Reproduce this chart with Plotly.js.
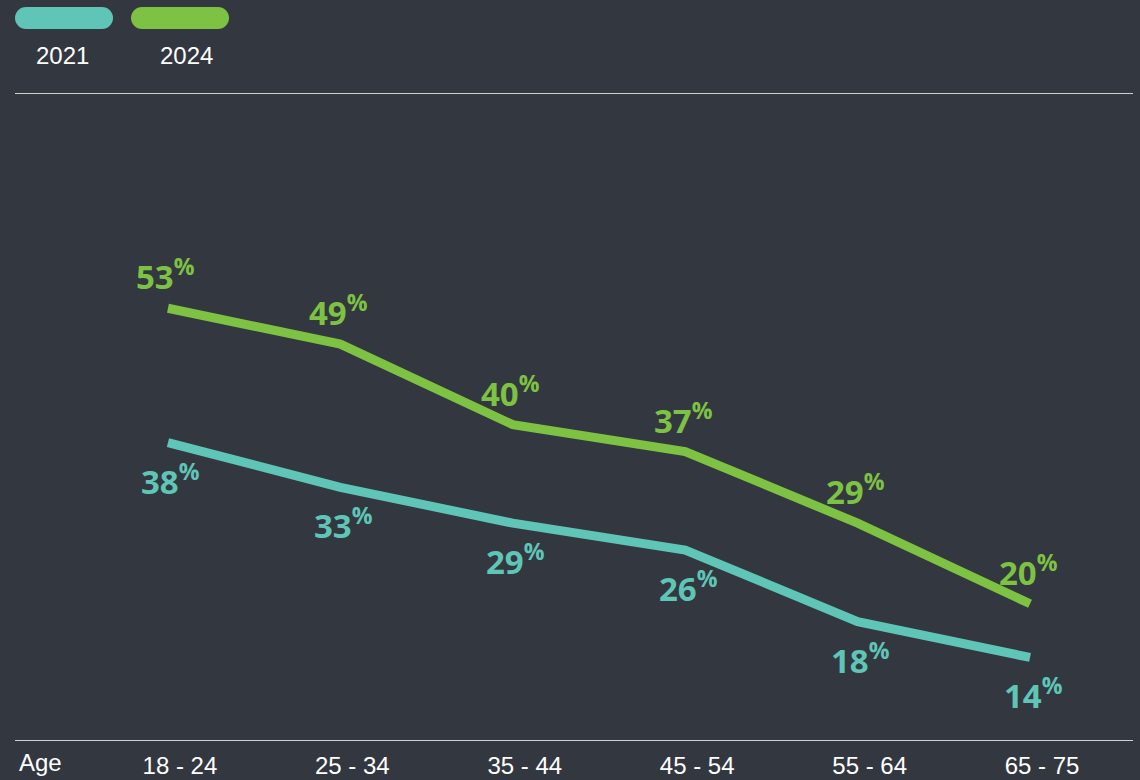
<!DOCTYPE html>
<html>
<head>
<meta charset="utf-8">
<script src="https://cdn.plot.ly/plotly-3.0.1.min.js"></script>
<style>
html,body{margin:0;padding:0;background:#333740;}
#chart{width:1140px;height:780px;}
</style>
</head>
<body>
<div id="chart"></div>
<script>
// ---- data ----
const ageGroups = ['18 - 24', '25 - 34', '35 - 44', '45 - 54', '55 - 64', '65 - 75'];
const values2021 = [38, 33, 29, 26, 18, 14];
const values2024 = [53, 49, 40, 37, 29, 20];
const seriesNames = ['2021', '2024'];
const axisTitle = 'Age';

// ---- style ----
const BG = '#333740';
const TEAL = '#5fc5b7';
const GREEN = '#7dc242';
const W = 1140, H = 780;
const M = {l: 15, r: 7, t: 94, b: 40};
const PW = W - M.l - M.r, PH = H - M.t - M.b;
const px2x = p => (p - M.l) / PW;
const py2y = p => (H - M.b - p) / PH;

const traces = [
  {x: ageGroups, y: values2021, name: seriesNames[0], type: 'scatter', mode: 'lines',
   line: {color: TEAL, width: 9, shape: 'linear'}, hoverinfo: 'skip'},
  {x: ageGroups, y: values2024, name: seriesNames[1], type: 'scatter', mode: 'lines',
   line: {color: GREEN, width: 9, shape: 'linear'}, hoverinfo: 'skip'}
];

const labelFont = c => ({family: 'Open Sans, sans-serif', size: 33, weight: 700, color: c});
const annotations = [];
ageGroups.forEach((g, i) => {
  annotations.push({x: g, y: values2024[i], xref: 'x', yref: 'y', text: values2024[i] + '<sup>%</sup>',
    showarrow: false, xanchor: 'center', yanchor: 'bottom', yshift: 7, xshift: -2, font: labelFont(GREEN)});
  annotations.push({x: g, y: values2021[i], xref: 'x', yref: 'y', text: values2021[i] + '<sup>%</sup>',
    showarrow: false, xanchor: 'center', yanchor: 'top', yshift: -10, xshift: 3, font: labelFont(TEAL)});
});

// axis title "Age"
annotations.push({x: px2x(17), y: 0, xref: 'paper', yref: 'paper', text: axisTitle, showarrow: false,
  xanchor: 'left', yanchor: 'top', yshift: -7,
  font: {family: 'Liberation Sans, Arial, sans-serif', size: 24, color: '#ffffff'}});

// legend
const legendColors = [TEAL, GREEN];
const legendLeft = [15, 131];
const legendTextX = [62, 186];
const shapes = [];
seriesNames.forEach((n, i) => {
  const x0 = legendLeft[i], x1 = x0 + 98, y0 = 7, y1 = 29, r = 11;
  shapes.push({type: 'rect', xref: 'paper', yref: 'paper', x0: px2x(x0 + r), x1: px2x(x1 - r),
    y0: py2y(y1), y1: py2y(y0), fillcolor: legendColors[i], line: {width: 0}});
  shapes.push({type: 'circle', xref: 'paper', yref: 'paper', x0: px2x(x0), x1: px2x(x0 + 2 * r),
    y0: py2y(y1), y1: py2y(y0), fillcolor: legendColors[i], line: {width: 0}});
  shapes.push({type: 'circle', xref: 'paper', yref: 'paper', x0: px2x(x1 - 2 * r), x1: px2x(x1),
    y0: py2y(y1), y1: py2y(y0), fillcolor: legendColors[i], line: {width: 0}});
  annotations.push({x: px2x(legendTextX[i]), y: py2y(56), xref: 'paper', yref: 'paper', text: n, showarrow: false,
    xanchor: 'center', yanchor: 'middle',
    font: {family: 'Liberation Sans, Arial, sans-serif', size: 24, color: '#ffffff'}});
});

const layout = {
  width: W, height: H,
  paper_bgcolor: BG, plot_bgcolor: BG,
  margin: M,
  showlegend: false,
  xaxis: {type: 'category', range: [-0.887, 5.597], showgrid: false, zeroline: false,
    showline: true, mirror: true, linecolor: '#cfcfcf', linewidth: 1, ticks: '',
    ticklabelshift: 12, ticklabelstandoff: 4,
    tickfont: {family: 'Liberation Sans, Arial, sans-serif', size: 24, color: '#ffffff'}},
  yaxis: {range: [4.78, 76.93], showgrid: false, zeroline: false, showline: false,
    showticklabels: false, ticks: ''},
  annotations: annotations,
  shapes: shapes
};

Plotly.newPlot('chart', traces, layout, {displayModeBar: false, staticPlot: true});
</script>
</body>
</html>
